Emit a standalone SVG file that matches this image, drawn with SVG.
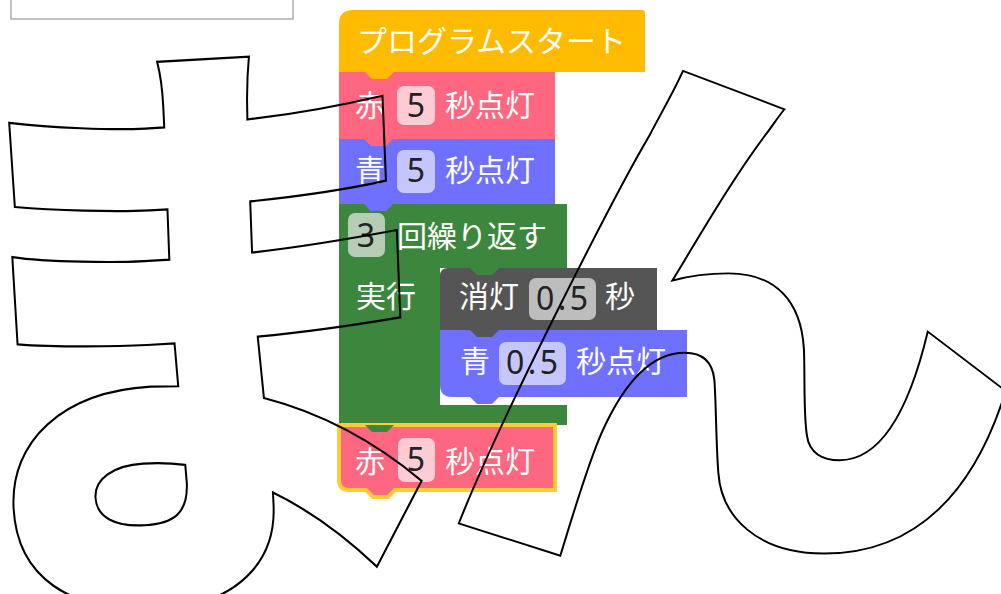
<svg xmlns="http://www.w3.org/2000/svg" width="1001" height="594" viewBox="0 0 1001 594">
<style>
.lbl{font-family:"Noto Sans CJK JP","Noto Sans",sans-serif;font-size:30px;fill:#ffffff}
.fld{font-family:"Noto Sans","DejaVu Sans",sans-serif;font-size:32px;fill:#222222;text-anchor:middle}
.big{font-family:"Noto Sans CJK JP",sans-serif;font-weight:900;fill:none;stroke:#000;stroke-width:2;stroke-linejoin:miter}
.orange{fill:#ffbb00}
.red{fill:#ff6680}
.blue{fill:#7070ff}
.green{fill:#3c873d}
.gray{fill:#555555}
</style>
<defs>
<path id="tab" d="M0,0 l7,7 h15 l7,-7 z"/>
</defs>
<rect x="11" y="-2" width="282" height="21" fill="#fff" stroke="#888" stroke-width="1"/>

<g id="start">
<path class="orange" d="M339,72 V24 Q339,10 353,10 H642 Q645,10 645,13 V72 Z"/>
<text class="lbl" x="357" y="52">プログラムスタート</text>
</g>

<g id="red1">
<rect class="red" x="339" y="72" width="216" height="67"/>
<text class="lbl" x="355" y="116">赤</text>
<rect x="397" y="86" width="38" height="39" rx="7" fill="#ffccd6"/>
<text class="fld" x="416" y="117">5</text>
<text class="lbl" x="445" y="116">秒点灯</text>
</g>

<g id="blue1">
<rect class="blue" x="339" y="139" width="216" height="65"/>
<text class="lbl" x="355" y="181">青</text>
<rect x="397" y="150" width="38" height="43" rx="7" fill="#c6c6ff"/>
<text class="fld" x="416" y="182">5</text>
<text class="lbl" x="445" y="181">秒点灯</text>
</g>

<g id="loop">
<path class="green" d="M339,204 H567 V268 H440 V405 H567 V425 H339 Z"/>
<rect x="348" y="213" width="37" height="44" rx="7" fill="#b4cdb4"/>
<text class="fld" x="366" y="247">3</text>
<text class="lbl" x="397" y="247">回繰り返す</text>
<text class="lbl" x="356" y="307">実行</text>
</g>

<g id="off">
<path class="gray" d="M440,330 V276 Q440,268 448,268 H657 V330 Z"/>
<text class="lbl" x="459" y="307">消灯</text>
<rect x="529" y="278" width="67" height="42" rx="7" fill="#bdbdbd"/>
<text class="fld" x="562" y="310" textLength="52" lengthAdjust="spacing">0.5</text>
<text class="lbl" x="605" y="307">秒</text>
</g>

<g id="blue2">
<path class="blue" d="M440,330 H687 V397 H452 Q440,397 440,385 Z"/>
<text class="lbl" x="460" y="372">青</text>
<rect x="499" y="342" width="67" height="43" rx="7" fill="#c6c6ff"/>
<text class="fld" x="532" y="374" textLength="52" lengthAdjust="spacing">0.5</text>
<text class="lbl" x="576" y="372">秒点灯</text>
</g>

<g id="red2">
<path class="red" d="M339,425 H555 V490 H395 l-7,7 h-15 l-7,-7 H349 Q339,490 339,480 Z" stroke="#ffcc33" stroke-width="4"/>
<text class="lbl" x="355" y="472">赤</text>
<rect x="398" y="438" width="37" height="44" rx="7" fill="#ffccd6"/>
<text class="fld" x="416" y="471">5</text>
<text class="lbl" x="445" y="472">秒点灯</text>
</g>

<g id="tabs">
<use href="#tab" x="365" y="72" class="orange"/>
<use href="#tab" x="364" y="139" class="red"/>
<use href="#tab" x="364" y="204" class="blue"/>
<use href="#tab" x="470" y="268" class="green"/>
<use href="#tab" x="470" y="330" class="gray"/>
<use href="#tab" x="470" y="397" class="blue"/>
<use href="#tab" x="365" y="425" class="green"/>
</g>

<g id="overlay">
<g transform="matrix(1 0 0 1.1 0 -47.5)">
<text class="big" font-size="560" x="200" y="555" text-anchor="middle" transform="rotate(-3 200 350)">ま</text>
</g>
<g transform="matrix(1 0 0 0.94 0 13.7)">
<text class="big" font-size="590" x="729" y="540" text-anchor="middle">ん</text>
</g>
</g>
</svg>
